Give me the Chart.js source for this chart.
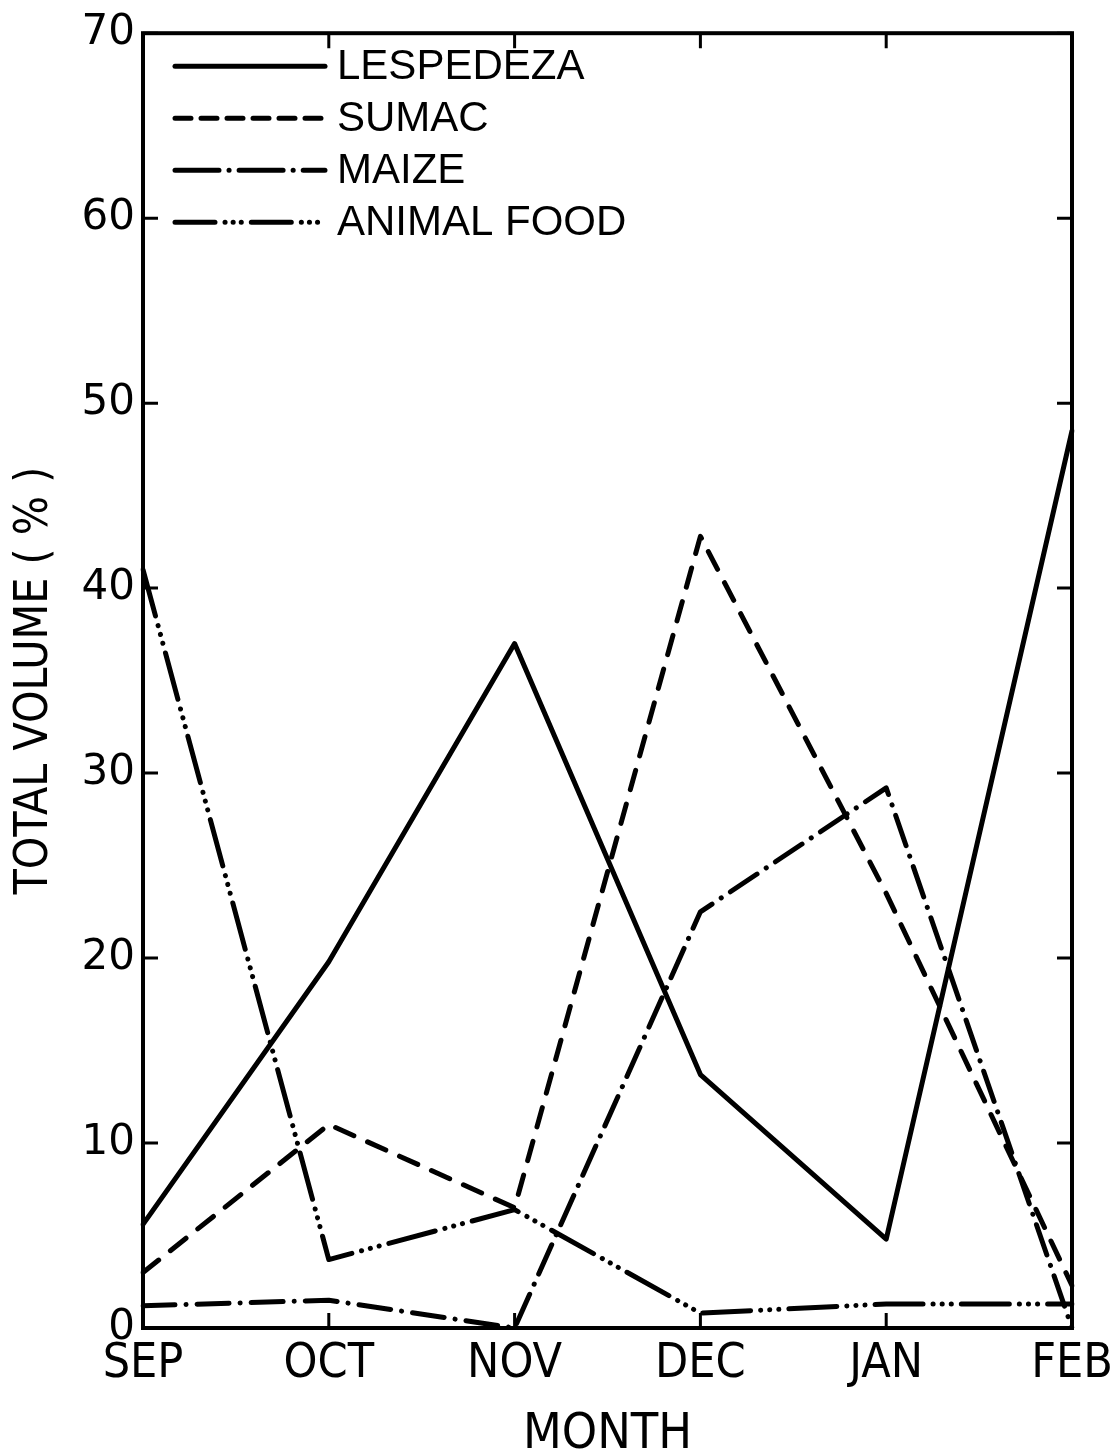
<!DOCTYPE html>
<html>
<head>
<meta charset="utf-8">
<script src="https://cdn.jsdelivr.net/npm/chart.js@4.4.1/dist/chart.umd.min.js"></script>
<style>
html, body { margin: 0; padding: 0; background: #fff; }
#wrap { width: 1115px; height: 1452px; }
</style>
</head>
<body>
<div id="wrap"><canvas id="graf"></canvas></div>
<script>
// data
var months = ["SEP", "OCT", "NOV", "DEC", "JAN", "FEB"];
var lespedeza = [5.6, 19.8, 37.0, 13.7, 4.8, 48.5];
var sumac = [3.0, 11.0, 6.5, 42.8, 23.5, 2.3];
var maize = [1.2, 1.5, 0, 22.5, 29.2, 0];
var animalFood = [41.0, 3.7, 6.4, 0.8, 1.3, 1.3];
var yTicks = [0, 10, 20, 30, 40, 50, 60, 70];

var condensed = "'DejaVu Sans Condensed', 'DejaVu Sans', sans-serif";

// box frame, inward ticks and the legend inside the plot
var framePlugin = {
  id: "frame",
  afterDatasetsDraw: function (chart) {
    var ctx = chart.ctx, a = chart.chartArea;
    var x = chart.scales.x, y = chart.scales.y;
    ctx.save();
    ctx.strokeStyle = "#000";
    ctx.lineWidth = 4;
    ctx.setLineDash([]);
    ctx.strokeRect(a.left, a.top, a.right - a.left, a.bottom - a.top);
    ctx.lineWidth = 3;
    ctx.beginPath();
    months.forEach(function (m, i) {
      var px = x.getPixelForValue(i);
      ctx.moveTo(px, a.bottom); ctx.lineTo(px, a.bottom - 15);
      ctx.moveTo(px, a.top); ctx.lineTo(px, a.top + 15);
    });
    yTicks.forEach(function (v) {
      var py = y.getPixelForValue(v);
      ctx.moveTo(a.left, py); ctx.lineTo(a.left + 15, py);
      ctx.moveTo(a.right, py); ctx.lineTo(a.right - 15, py);
    });
    ctx.stroke();

    // legend
    chart.data.datasets.forEach(function (ds, i) {
      var yy = a.top + 33 + i * 52;
      ctx.lineWidth = 5;
      ctx.lineCap = "round";
      ctx.setLineDash(ds.legendDash || ds.borderDash || []);
      ctx.beginPath();
      ctx.moveTo(a.left + 32, yy);
      ctx.lineTo(a.left + 182, yy);
      ctx.stroke();
      ctx.setLineDash([]);
      ctx.fillStyle = "#000";
      ctx.font = "42px 'Liberation Sans', Arial, sans-serif";
      ctx.textBaseline = "middle";
      ctx.textAlign = "left";
      ctx.fillText(ds.label, a.left + 194, yy + 1);
    });
    ctx.restore();
  }
};

function series(label, values, dash, legendDash) {
  return {
    label: label,
    data: values,
    borderColor: "#000",
    borderWidth: 5,
    borderDash: dash,
    legendDash: legendDash,
    borderCapStyle: "round",
    borderJoinStyle: "round",
    pointRadius: 0,
    tension: 0,
    fill: false
  };
}

new Chart(document.getElementById("graf"), {
  type: "line",
  data: {
    labels: months,
    datasets: [
      series("LESPEDEZA", lespedeza, [], []),
      series("SUMAC", sumac, [20, 15], [16, 10]),
      series("MAIZE", maize, [32, 11, 0.1, 11], [44, 10, 0.1, 10]),
      series("ANIMAL FOOD", animalFood, [48, 10, 0.1, 9, 0.1, 9, 0.1, 10], [40, 10, 0.1, 8, 0.1, 8, 0.1, 10])
    ]
  },
  options: {
    responsive: true,
    maintainAspectRatio: false,
    devicePixelRatio: 1,
    animation: false,
    layout: { padding: { top: 30, right: 43, left: 0, bottom: 0 } },
    plugins: { legend: { display: false }, tooltip: { enabled: false } },
    scales: {
      x: {
        type: "category",
        offset: false,
        grid: { display: false, drawTicks: false },
        border: { display: false },
        ticks: {
          color: "#000",
          font: { family: condensed, size: 48 },
          padding: 8,
          maxRotation: 0,
          autoSkip: false
        },
        title: {
          display: true,
          text: "MONTH",
          color: "#000",
          font: { family: condensed, size: 50, lineHeight: 1 },
          padding: { top: 0, bottom: -8 }
        },
        afterFit: function (s) {
          s.height = 124;
          s.paddingLeft = 0;
          s.paddingRight = 0;
        }
      },
      y: {
        min: 0,
        max: 70,
        afterBuildTicks: function (s) {
          s.ticks = yTicks.map(function (v) { return { value: v }; });
        },
        grid: { display: false, drawTicks: false },
        border: { display: false },
        ticks: {
          color: "#000",
          font: { family: "'DejaVu Sans', sans-serif", size: 42 },
          padding: 8
        },
        title: {
          display: true,
          text: "TOTAL VOLUME ( % )",
          color: "#000",
          font: { family: condensed, size: 46, lineHeight: 1 },
          padding: { top: 12, bottom: 0 }
        },
        afterFit: function (s) { s.width = 143; }
      }
    }
  },
  plugins: [framePlugin]
});
</script>
</body>
</html>
